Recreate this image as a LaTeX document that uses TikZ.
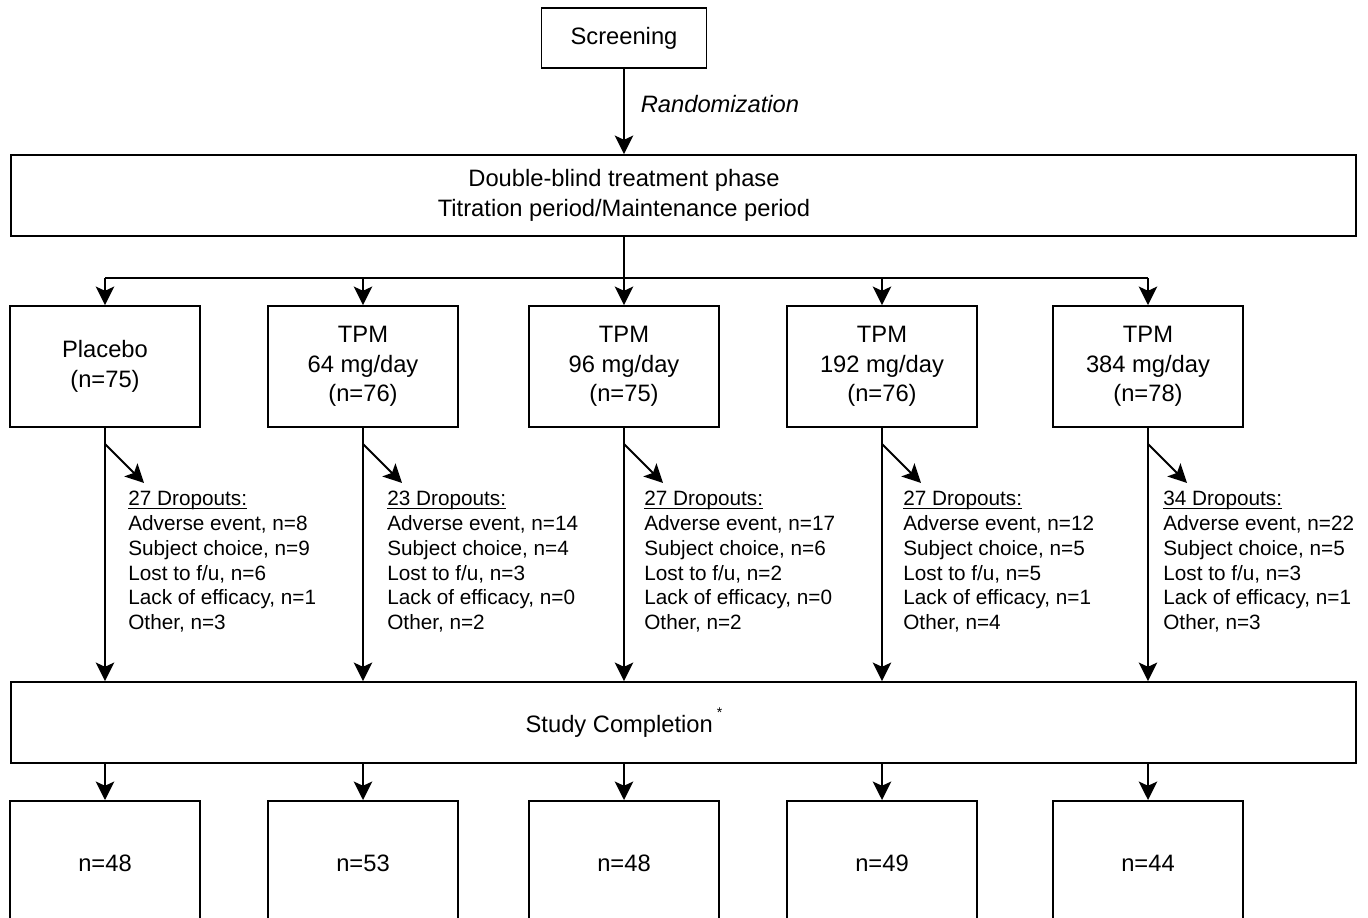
\documentclass[tikz,border=0pt]{standalone}
\usepackage{fontspec}
\setmainfont{Liberation Sans}
\usepackage{tikz}
\usetikzlibrary{positioning,calc,arrows.meta}

\newcommand{\drophead}[1]{{\setbox0\hbox{#1}\rlap{\rule[-1.7pt]{\wd0}{0.6pt}}\box0}}

\tikzset{
    boxfont/.style={font=\fontsize{13.5}{16.8}\selectfont},
    box/.style={draw, line width=1.1pt, align=center, boxfont},
    armbox/.style={box, minimum width=3.8cm, minimum height=2.42cm},
    outbox/.style={box, anchor=north, minimum width=3.8cm, minimum height=2.5cm},
    widebox/.style={draw, line width=1.1pt, minimum width=26.9cm, minimum height=1.62cm},
    dropnote/.style={anchor=north west, align=left, inner sep=0pt, font=\fontsize{11.8}{14.1}\selectfont},
    flow/.style={line width=1.1pt, -{Stealth[length=10.5pt, width=10.5pt, inset=2.4pt]}},
    plain/.style={line width=1.1pt}
}

\begin{document}
\begin{tikzpicture}
    \useasboundingbox (0,0) rectangle (27.36,-18.36);
    \node [box, minimum width=3.3cm, minimum height=1.2cm] (screen) at (12.48,-0.76) {Screening};
    \node [widebox] (phase) at (13.67,-3.91) {};
    \node [align=center, boxfont] (phasetext) at (phase -| screen) {Double-blind treatment phase\\Titration period/Maintenance period};
    \draw [flow] (screen.south) -- node [right=0.2cm, pos=0.41, font=\fontsize{13.5}{16.8}\selectfont\itshape] {Randomization} (screen.south |- phase.north);
    \coordinate (split) at (12.48,-5.56); % branching level
    \draw [plain] (split |- phase.south) -- (split);

    % treatment arms
    \node [armbox] (placebo) at (2.1,-7.33) {Placebo\\(n=75)};
    \node [armbox] (tpm64) at (7.26,-7.33) {TPM\\64 mg/day\\(n=76)};
    \node [armbox] (tpm96) at (12.48,-7.33) {TPM\\96 mg/day\\(n=75)};
    \node [armbox] (tpm192) at (17.64,-7.33) {TPM\\192 mg/day\\(n=76)};
    \node [armbox] (tpm384) at (22.96,-7.33) {TPM\\384 mg/day\\(n=78)};
    \draw [plain] (split -| placebo) -- (split -| tpm384);
    \draw [flow] (split -| placebo) -- (placebo.north);
    \draw [flow] (split -| tpm64) -- (tpm64.north);
    \draw [flow] (split -| tpm96) -- (tpm96.north);
    \draw [flow] (split -| tpm192) -- (tpm192.north);
    \draw [flow] (split -| tpm384) -- (tpm384.north);

    % dropouts
    \node [dropnote] (dropA) at (2.56,-9.82) {\drophead{27 Dropouts:}\\Adverse event, n=8\\Subject choice, n=9\\Lost to f/u, n=6\\Lack of efficacy, n=1\\Other, n=3};
    \node [dropnote] (dropB) at (7.74,-9.82) {\drophead{23 Dropouts:}\\Adverse event, n=14\\Subject choice, n=4\\Lost to f/u, n=3\\Lack of efficacy, n=0\\Other, n=2};
    \node [dropnote] (dropC) at (12.88,-9.82) {\drophead{27 Dropouts:}\\Adverse event, n=17\\Subject choice, n=6\\Lost to f/u, n=2\\Lack of efficacy, n=0\\Other, n=2};
    \node [dropnote] (dropD) at (18.06,-9.82) {\drophead{27 Dropouts:}\\Adverse event, n=12\\Subject choice, n=5\\Lost to f/u, n=5\\Lack of efficacy, n=1\\Other, n=4};
    \node [dropnote] (dropE) at (23.26,-9.82) {\drophead{34 Dropouts:}\\Adverse event, n=22\\Subject choice, n=5\\Lost to f/u, n=3\\Lack of efficacy, n=1\\Other, n=3};
    \draw [flow] ($(placebo.south)+(0,-0.32)$) -- ++(0.78,-0.78);
    \draw [flow] ($(tpm64.south)+(0,-0.32)$) -- ++(0.78,-0.78);
    \draw [flow] ($(tpm96.south)+(0,-0.32)$) -- ++(0.78,-0.78);
    \draw [flow] ($(tpm192.south)+(0,-0.32)$) -- ++(0.78,-0.78);
    \draw [flow] ($(tpm384.south)+(0,-0.32)$) -- ++(0.78,-0.78);

    % completion
    \node [widebox] (finish) at (13.67,-14.45) {};
    \node [boxfont] (finishtext) at (finish -| screen) {Study Completion\,\raisebox{1.2ex}{\footnotesize *}};
    \draw [flow] (placebo.south) -- (placebo |- finish.north);
    \draw [flow] (tpm64.south) -- (tpm64 |- finish.north);
    \draw [flow] (tpm96.south) -- (tpm96 |- finish.north);
    \draw [flow] (tpm192.south) -- (tpm192 |- finish.north);
    \draw [flow] (tpm384.south) -- (tpm384 |- finish.north);

    % completers, boxes run off the page
    \node [outbox] (outA) at (2.1,-16.0) {n=48};
    \node [outbox] (outB) at (7.26,-16.0) {n=53};
    \node [outbox] (outC) at (12.48,-16.0) {n=48};
    \node [outbox] (outD) at (17.64,-16.0) {n=49};
    \node [outbox] (outE) at (22.96,-16.0) {n=44};
    \draw [flow] (placebo |- finish.south) -- (outA.north);
    \draw [flow] (tpm64 |- finish.south) -- (outB.north);
    \draw [flow] (tpm96 |- finish.south) -- (outC.north);
    \draw [flow] (tpm192 |- finish.south) -- (outD.north);
    \draw [flow] (tpm384 |- finish.south) -- (outE.north);
\end{tikzpicture}
\end{document}
